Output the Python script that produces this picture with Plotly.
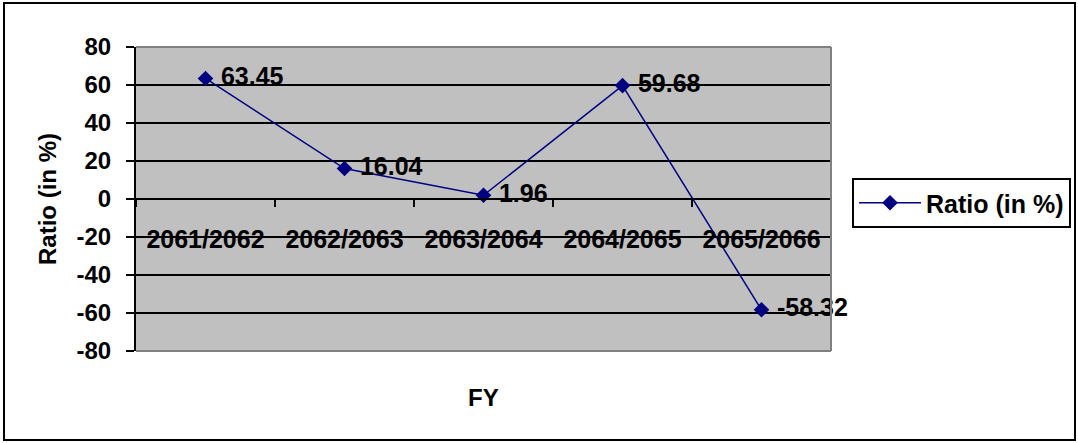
import plotly.graph_objects as go

# Financial years and the ratio for each year (in %)
fiscal_years = ["2061/2062", "2062/2063", "2063/2064", "2064/2065", "2065/2066"]
ratio_pct = [63.45, 16.04, 1.96, 59.68, -58.32]
ratio_labels = ["63.45", "16.04", "1.96", "59.68", "-58.32"]
y_ticks = [-80, -60, -40, -20, 0, 20, 40, 60, 80]
y_tick_text = [str(v) for v in y_ticks]  # plain hyphen-minus

W, H = 1078, 443
L, R, T, B = 136, 247, 47, 92
pw, ph = W - L - R, H - T - B

FONT = "Liberation Sans, Arial, sans-serif"


def px_x(p):
    return (p - L) / pw


def px_y(q):
    return (H - B - q) / ph


fig = go.Figure()
fig.add_trace(go.Scatter(
    x=fiscal_years,
    y=ratio_pct,
    mode="lines+markers+text",
    name="Ratio (in %)",
    line=dict(color="#000080", width=1.5),
    marker=dict(symbol="diamond", size=12, color="#000080"),
    text=[" " + s for s in ratio_labels],
    textposition="middle right",
    textfont=dict(family=FONT, size=25, color="black", weight="bold"),
    cliponaxis=False,
))

fig.update_layout(
    width=W, height=H,
    margin=dict(l=L, r=R, t=T, b=B, autoexpand=False),
    paper_bgcolor="white",
    plot_bgcolor="#C0C0C0",
    showlegend=True,
    legend=dict(
        x=px_x(852), y=px_y(178), xanchor="left", yanchor="top",
        bordercolor="black", borderwidth=2, bgcolor="white",
        font=dict(family=FONT, size=25, color="black", weight="bold"),
        itemwidth=62,
    ),
    xaxis=dict(
        type="category",
        range=[-0.5, 4.5],
        anchor="free", position=0.5,
        showline=True, linecolor="black", linewidth=2,
        ticks="outside", tickson="boundaries", ticklen=7, tickwidth=2, tickcolor="black",
        ticklabelstandoff=18,
        showgrid=False, zeroline=False,
        tickfont=dict(family=FONT, size=25, color="black", weight="bold"),
    ),
    yaxis=dict(
        range=[-80, 80],
        tickvals=y_ticks,
        ticktext=y_tick_text,
        showline=True, linecolor="black", linewidth=2,
        ticks="outside", ticklen=8, tickwidth=2, tickcolor="black",
        ticklabelstandoff=10,
        showgrid=True, gridcolor="black", gridwidth=2,
        zeroline=True, zerolinecolor="black", zerolinewidth=2,
        tickfont=dict(family=FONT, size=24, color="black", weight="bold"),
    ),
    annotations=[
        dict(text="FY", xref="paper", yref="paper", x=0.5, y=px_y(397),
             showarrow=False, xanchor="center", yanchor="middle",
             font=dict(family=FONT, size=24, color="black", weight="bold")),
        dict(text="Ratio (in %)", xref="paper", yref="paper", x=px_x(47), y=0.5,
             showarrow=False, xanchor="center", yanchor="middle", textangle=-90,
             font=dict(family=FONT, size=24, color="black", weight="bold")),
    ],
    shapes=[
        # plot-area border: top, right, bottom in gray
        dict(type="line", xref="paper", yref="paper", x0=0, x1=1, y0=1, y1=1,
             line=dict(color="#808080", width=2), layer="above"),
        dict(type="line", xref="paper", yref="paper", x0=1, x1=1, y0=0, y1=1,
             line=dict(color="#808080", width=2), layer="above"),
        dict(type="line", xref="paper", yref="paper", x0=0, x1=1, y0=0, y1=0,
             line=dict(color="#808080", width=2), layer="above"),
        # chart outer frame
        dict(type="rect", xref="paper", yref="paper",
             x0=px_x(4), x1=px_x(1075), y0=px_y(440), y1=px_y(3),
             line=dict(color="black", width=2), fillcolor="rgba(0,0,0,0)", layer="above"),
    ],
)

fig.write_html("out.html")
